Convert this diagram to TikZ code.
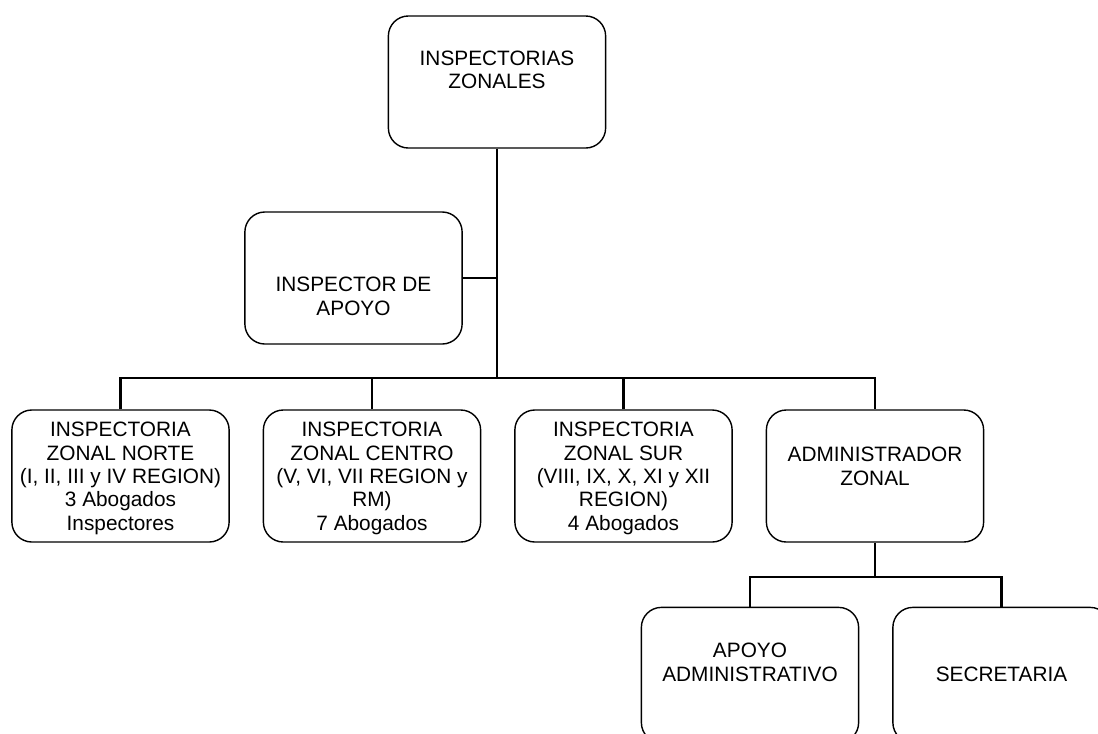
\documentclass[tikz,border=0pt]{standalone}
\usepackage{fontspec}
\setmainfont{Liberation Sans}
\usepackage{tikz}
\usetikzlibrary{positioning, calc}
\newcommand{\orgtext}[2]{\raisebox{#1}[0pt][0pt]{\begin{tabular}{@{}c@{}}#2\end{tabular}}}

\begin{document}
\begin{tikzpicture}[
  x=0.025cm, y=-0.025cm,
  font=\fontsize{14.8}{16.6}\selectfont,
  orgbox/.style={draw, rounded corners=0.5cm, line width=1pt, inner sep=0pt, minimum width=5.43cm, minimum height=3.3cm},
  link/.style={line width=1.7pt},
  trunk/.style={line width=2.1pt}
]
  \useasboundingbox (0,0) rectangle (1098,733);
  \clip (0,0) rectangle (1098,733);
  % boxes
  \node[orgbox] (zonales) at (497, 82) {\orgtext{3.1pt}{INSPECTORIAS\\ZONALES}};
  \node[orgbox] (apoyo) at (353.5, 278) {\orgtext{-18.4pt}{INSPECTOR DE\\APOYO}};
  \node[orgbox] (norte) at (120.5, 476) {\orgtext{-5.7pt}{INSPECTORIA\\ZONAL NORTE\\(I, II, III y IV REGION)\\3 Abogados\\Inspectores}};
  \node[orgbox] (centro) at (372, 476) {\orgtext{-5.7pt}{INSPECTORIA\\ZONAL CENTRO\\(V, VI, VII REGION y\\RM)\\7 Abogados}};
  \node[orgbox] (sur) at (623.5, 476) {\orgtext{-5.7pt}{INSPECTORIA\\ZONAL SUR\\(VIII, IX, X, XI y XII\\REGION)\\4 Abogados}};
  \node[orgbox] (admin) at (875, 476) {\orgtext{1.4pt}{ADMINISTRADOR\\ZONAL}};
  \node[orgbox, minimum height=3.38cm] (apoyoadm) at (750, 675) {\orgtext{3.6pt}{APOYO\\ADMINISTRATIVO}};
  \node[orgbox, minimum height=3.38cm] (secretaria) at (1001.5, 675) {\orgtext{-4.9pt}{SECRETARIA}};
  % connectors
  \coordinate (hub) at (497, 378);
  \coordinate (subhub) at (875, 577);
  \draw[trunk] (zonales.south) -- (hub);
  \draw[link] (apoyo.east) -- (apoyo.east -| hub);
  \draw[link] (norte.north) |- (hub) -| (admin.north);
  \draw[link] (centro.north) -- (centro.north |- hub);
  \draw[link] (sur.north) -- (sur.north |- hub);
  \draw[link] (admin.south) -- (subhub);
  \draw[link] (apoyoadm.north) |- (subhub) -| (secretaria.north);
\end{tikzpicture}
\end{document}
